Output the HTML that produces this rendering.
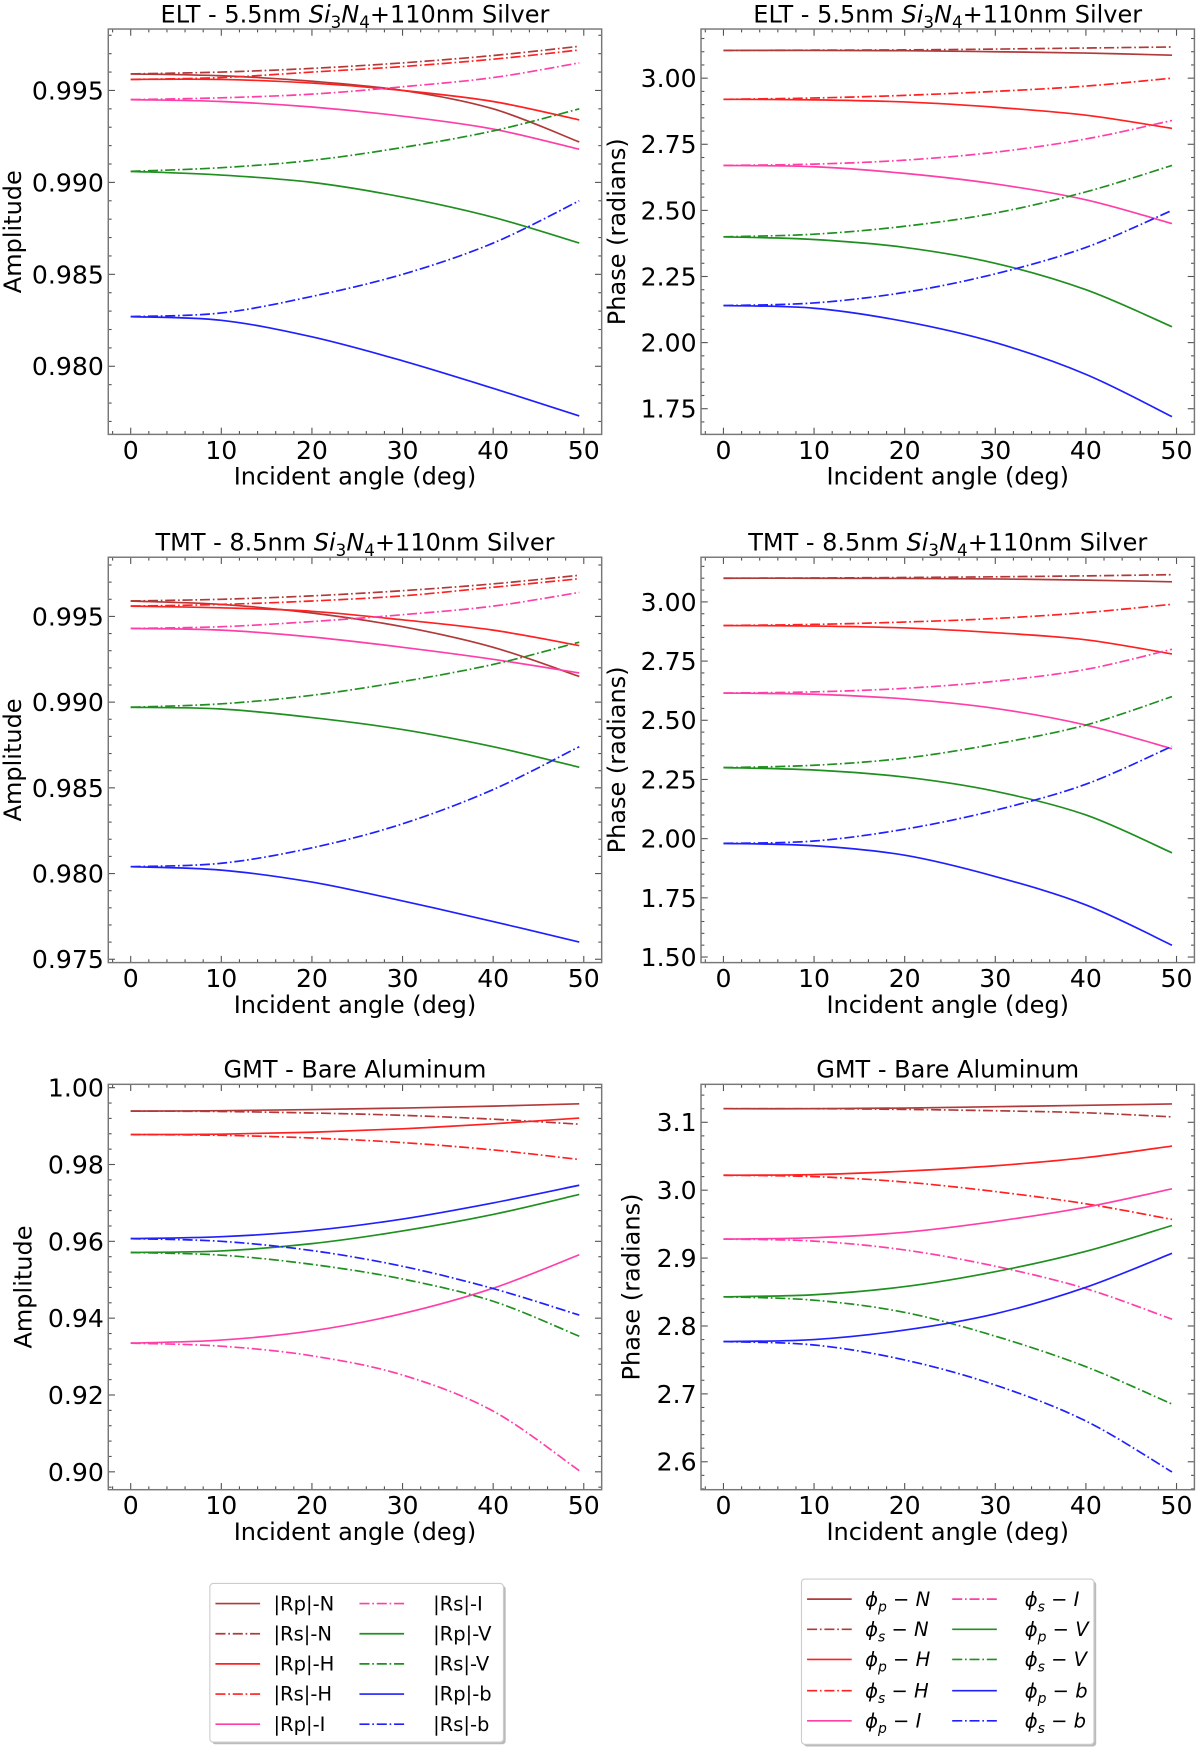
<!DOCTYPE html>
<html><head><meta charset="utf-8"><style>
html,body{margin:0;padding:0;background:#fff;}
svg{display:block;font-family:"DejaVu Sans","Liberation Sans",sans-serif;}
</style></head><body>
<svg id="fig" width="1200" height="1751" viewBox="0 0 1075 1568" preserveAspectRatio="none" xmlns="http://www.w3.org/2000/svg"></svg>
<script>
var reflAngles = [0, 10, 20, 30, 40, 49.5];
var reflSeriesNames = ['N', 'H', 'I', 'V', 'b'];
var reflSeriesColors = ['#b03a3a', '#ff2020', '#ff3fa8', '#1f8f1f', '#2020ff'];
var reflXTicks = [0, 10, 20, 30, 40, 50];

var eltAmpP = [[0.9959,0.9958,0.9955,0.9950,0.9940,0.9922],[0.9956,0.9956,0.9954,0.9950,0.9944,0.9934],[0.9945,0.9944,0.9941,0.9936,0.9929,0.9918],[0.9906,0.9904,0.9900,0.9892,0.9881,0.9867],[0.9827,0.9825,0.9816,0.9803,0.9788,0.9773]];
var eltAmpS = [[0.9959,0.9960,0.9962,0.9965,0.9969,0.9974],[0.9956,0.9957,0.9960,0.9963,0.9967,0.9972],[0.9945,0.9946,0.9948,0.9952,0.9957,0.9965],[0.9906,0.9908,0.9912,0.9919,0.9928,0.9940],[0.9827,0.9829,0.9838,0.9850,0.9867,0.9890]];
var eltAmpTicks = [0.995, 0.990, 0.985, 0.980];
var eltPhP = [[3.105,3.105,3.104,3.100,3.095,3.087],[2.92,2.918,2.91,2.89,2.86,2.81],[2.67,2.665,2.64,2.60,2.54,2.45],[2.40,2.39,2.36,2.30,2.20,2.06],[2.14,2.13,2.08,2.00,1.88,1.72]];
var eltPhS = [[3.105,3.106,3.107,3.110,3.114,3.118],[2.92,2.925,2.935,2.95,2.97,3.00],[2.67,2.675,2.69,2.72,2.77,2.84],[2.40,2.41,2.44,2.49,2.57,2.67],[2.14,2.15,2.19,2.26,2.36,2.50]];
var eltPhTicks = [3.00, 2.75, 2.50, 2.25, 2.00, 1.75];
var tmtAmpP = [[0.9959,0.9957,0.9952,0.9944,0.9932,0.9915],[0.9956,0.9955,0.9953,0.9948,0.9942,0.9933],[0.9943,0.9942,0.9938,0.9932,0.9925,0.9917],[0.9897,0.9896,0.9891,0.9884,0.9874,0.9862],[0.9804,0.9802,0.9795,0.9784,0.9772,0.9760]];
var tmtAmpS = [[0.9959,0.9960,0.9962,0.9965,0.9969,0.9974],[0.9956,0.9957,0.9959,0.9962,0.9967,0.9972],[0.9943,0.9944,0.9947,0.9951,0.9956,0.9964],[0.9897,0.9899,0.9904,0.9912,0.9922,0.9935],[0.9804,0.9806,0.9815,0.9829,0.9849,0.9874]];
var tmtAmpTicks = [0.995, 0.990, 0.985, 0.980, 0.975];
var tmtPhP = [[3.10,3.10,3.099,3.097,3.092,3.085],[2.90,2.898,2.89,2.87,2.84,2.78],[2.615,2.61,2.59,2.55,2.48,2.38],[2.30,2.29,2.26,2.20,2.10,1.94],[1.98,1.97,1.93,1.84,1.72,1.55]];
var tmtPhS = [[3.10,3.101,3.103,3.106,3.11,3.115],[2.90,2.905,2.915,2.93,2.955,2.99],[2.615,2.62,2.635,2.665,2.715,2.80],[2.30,2.31,2.34,2.40,2.48,2.60],[1.98,1.99,2.04,2.12,2.23,2.39]];
var tmtPhTicks = [3.00, 2.75, 2.50, 2.25, 2.00, 1.75, 1.50];
var gmtAmpP = [[0.9939,0.9940,0.9943,0.9947,0.9952,0.9958],[0.9878,0.9879,0.9884,0.9893,0.9906,0.9921],[0.9335,0.9343,0.9367,0.9412,0.9478,0.9565],[0.9571,0.9575,0.9594,0.9627,0.9670,0.9722],[0.9607,0.9612,0.9628,0.9658,0.9700,0.9746]];
var gmtAmpS = [[0.9939,0.9938,0.9934,0.9928,0.9918,0.9905],[0.9878,0.9876,0.9869,0.9857,0.9838,0.9813],[0.9335,0.9327,0.9302,0.9252,0.9158,0.9003],[0.9571,0.9564,0.9540,0.9502,0.9444,0.9353],[0.9607,0.9600,0.9576,0.9535,0.9477,0.9408]];
var gmtAmpTicks = [1.00, 0.98, 0.96, 0.94, 0.92, 0.90];
var gmtPhP = [[3.120,3.120,3.121,3.123,3.125,3.127],[3.022,3.023,3.028,3.036,3.048,3.065],[2.928,2.930,2.938,2.954,2.975,3.002],[2.843,2.846,2.858,2.880,2.910,2.948],[2.777,2.780,2.794,2.818,2.857,2.907]];
var gmtPhS = [[3.120,3.120,3.119,3.117,3.114,3.108],[3.022,3.020,3.012,2.998,2.980,2.957],[2.928,2.925,2.912,2.888,2.855,2.810],[2.843,2.838,2.820,2.785,2.740,2.685],[2.777,2.772,2.750,2.713,2.660,2.585]];
var gmtPhTicks = [3.1, 3.0, 2.9, 2.8, 2.7, 2.6];

(function(){
var SVGNS = 'http://www.w3.org/2000/svg';
var root = document.getElementById('fig');
function mk(tag, attrs, parent){
  var e=document.createElementNS(SVGNS,tag);
  for(var k in attrs){ e.setAttribute(k, String(attrs[k])); }
  (parent||root).appendChild(e);
  return e;
}
var DASH='9,2.5,1.5,2.5';
var panelDefs = [
 {name:'elt-amplitude', title:'elt', ylabel:'Amplitude', P:eltAmpP, S:eltAmpS, ticks:eltAmpTicks, dec:3, L:97, R:539, T:26, B:389, t0:0.995, y0:81, t1:0.980, y1:328, minor:0.001, ylx:78},
 {name:'elt-phase', title:'elt', ylabel:'Phase (radians)', P:eltPhP, S:eltPhS, ticks:eltPhTicks, dec:2, L:628, R:1070, T:26, B:389, t0:3.00, y0:70, t1:1.75, y1:366, minor:0.05, ylx:68},
 {name:'tmt-amplitude', title:'tmt', ylabel:'Amplitude', P:tmtAmpP, S:tmtAmpS, ticks:tmtAmpTicks, dec:3, L:97, R:539, T:499, B:862, t0:0.995, y0:552, t1:0.975, y1:859, minor:0.001, ylx:78},
 {name:'tmt-phase', title:'tmt', ylabel:'Phase (radians)', P:tmtPhP, S:tmtPhS, ticks:tmtPhTicks, dec:2, L:628, R:1070, T:499, B:862, t0:3.00, y0:539, t1:1.50, y1:857, minor:0.05, ylx:68},
 {name:'gmt-amplitude', title:'gmt', ylabel:'Amplitude', P:gmtAmpP, S:gmtAmpS, ticks:gmtAmpTicks, dec:2, L:97, R:539, T:971, B:1334, t0:1.00, y0:974, t1:0.90, y1:1318, minor:0.004, ylx:69},
 {name:'gmt-phase', title:'gmt', ylabel:'Phase (radians)', P:gmtPhP, S:gmtPhS, ticks:gmtPhTicks, dec:1, L:628, R:1070, T:971, B:1334, t0:3.1, y0:1005, t1:2.6, y1:1309, minor:0.02, ylx:55}
];
function smoothPath(pts){
  var d='M'+pts[0][0].toFixed(2)+','+pts[0][1].toFixed(2);
  for(var i=0;i<pts.length-1;i++){
    var p0=pts[Math.max(0,i-1)],p1=pts[i],p2=pts[i+1],p3=pts[Math.min(pts.length-1,i+2)];
    var c1x=p1[0]+(p2[0]-p0[0])/6, c1y=p1[1]+(p2[1]-p0[1])/6;
    var c2x=p2[0]-(p3[0]-p1[0])/6, c2y=p2[1]-(p3[1]-p1[1])/6;
    d+=' C'+c1x.toFixed(2)+','+c1y.toFixed(2)+' '+c2x.toFixed(2)+','+c2y.toFixed(2)+' '+p2[0].toFixed(2)+','+p2[1].toFixed(2);
  }
  return d;
}
function drawPanel(p){
  var g=mk('g',{});
  
  
  var xmin=-2.475, xmax=51.975;
  function xs(v){ return p.L+(v-xmin)/(xmax-xmin)*(p.R-p.L); }
  function ys(v){ return p.y0+(v-p.t0)/(p.t1-p.t0)*(p.y1-p.y0); }
  var cx=(p.L+p.R)/2;
  var tt=mk('text',{x:cx,y:p.T-6,'text-anchor':'middle','font-size':21.5,fill:'#000'},g);
  
  
  if(p.title==='gmt'){ tt.textContent='GMT - Bare Aluminum'; }
  else {
    tt.appendChild(document.createTextNode(p.title==='elt' ? 'ELT - 5.5nm ' : 'TMT - 8.5nm '));
    var s1=mk('tspan',{'font-style':'italic'},tt); s1.textContent='Si';
    var s2=mk('tspan',{'font-size':15,dy:5},tt); s2.textContent='3';
    var s3=mk('tspan',{'font-style':'italic',dy:-5},tt); s3.textContent='N';
    var s4=mk('tspan',{'font-size':15,dy:5},tt); s4.textContent='4';
    var s5=mk('tspan',{dy:-5},tt); s5.textContent='+110nm Silver';
  }
  var cid='clip-'+p.name;
  var cp=mk('clipPath',{id:cid},g);
  mk('rect',{x:p.L,y:p.T,width:p.R-p.L,height:p.B-p.T},cp);
  var tg=mk('g',{stroke:'#555','stroke-width':1},g);
  for(var v=-2;v<=51;v+=2){
    var x=xs(v); var len=(v%10===0)?6:3;
    mk('line',{x1:x,y1:p.B,x2:x,y2:p.B-len},tg);
    mk('line',{x1:x,y1:p.T,x2:x,y2:p.T+len},tg);
  }
  var lo=Math.min(p.t0,p.t1)-p.minor*30, hi=Math.max(p.t0,p.t1)+p.minor*30;
  for(var k=Math.ceil(lo/p.minor);k*p.minor<=hi;k++){
    var vv=k*p.minor, y=ys(vv);
    if(y<p.T+0.5||y>p.B-0.5) continue;
    var isMajor=p.ticks.some(function(tv){return Math.abs(tv-vv)<p.minor/10;});
    var ln=isMajor?6:3;
    mk('line',{x1:p.L,y1:y,x2:p.L+ln,y2:y},tg);
    mk('line',{x1:p.R,y1:y,x2:p.R-ln,y2:y},tg);
  }
  reflXTicks.forEach(function(v){
    var tx=mk('text',{x:xs(v),y:p.B+22,'text-anchor':'middle','font-size':22.5,fill:'#000'},g);
    
    
    tx.textContent=String(v);
  });
  p.ticks.forEach(function(v){
    var ty=mk('text',{x:p.L-4,y:ys(v)+8,'text-anchor':'end','font-size':22.5,fill:'#000'},g);
    
    
    ty.textContent=v.toFixed(p.dec);
  });
  var xl=mk('text',{x:cx,y:p.B+45,'text-anchor':'middle','font-size':21.5,fill:'#000'},g);
  
  
  xl.textContent='Incident angle (deg)';
  var yl=mk('text',{x:0,y:0,'text-anchor':'middle','font-size':21.5,fill:'#000',transform:'translate('+(p.L-p.ylx)+','+((p.T+p.B)/2)+') rotate(-90)'},g);
  
  
  yl.textContent=p.ylabel;
  var sg=mk('g',{'clip-path':'url(#'+cid+')',fill:'none','stroke-width':1.5},g);
  for(var i=0;i<reflSeriesNames.length;i++){
    var sets=[['p',p.P[i],null],['s',p.S[i],DASH]];
    for(var j=0;j<2;j++){
      var vals=sets[j][1];
      var pts=reflAngles.map(function(a,q){return [xs(a),ys(vals[q])];});
      var path=mk('path',{d:smoothPath(pts),stroke:reflSeriesColors[i]},sg);
      if(sets[j][2]) path.setAttribute('stroke-dasharray',sets[j][2]);
      
      
    }
  }
  var fr=mk('rect',{x:p.L,y:p.T,width:p.R-p.L,height:p.B-p.T,fill:'none',stroke:'#777','stroke-width':1.3},g);
  
  
}
panelDefs.forEach(function(p){ try{ drawPanel(p); }catch(err){} });

function drawLegend(name,bx,by,bw,bh,rowY,colLine,colText,amp){
  var g=mk('g',{});
  
  
  mk('rect',{x:bx+2,y:by+2,width:bw,height:bh,rx:3,fill:'#bbb'},g);
  mk('rect',{x:bx,y:by,width:bw,height:bh,rx:3,fill:'#fff',stroke:'#ccc','stroke-width':1},g);
  var entries=[];
  reflSeriesNames.forEach(function(n,i){ entries.push(['p',n,i]); entries.push(['s',n,i]); });
  entries.forEach(function(e,k){
    var col=k<5?0:1, row=k%5, y=rowY[row];
    var eg=mk('g',{},g);
    
    
    var ln=mk('line',{x1:colLine[col],y1:y,x2:colLine[col]+40,y2:y,stroke:reflSeriesColors[e[2]],'stroke-width':1.5},eg);
    if(e[0]==='s') ln.setAttribute('stroke-dasharray',DASH);
    var t=mk('text',{x:colText[col],y:y+6,'font-size':17.5,fill:'#000'},eg);
    if(amp){ t.textContent='|R'+e[0]+'|-'+e[1]; }
    else {
      var a=mk('tspan',{'font-style':'italic'},t); a.textContent='\u03d5';
      var b=mk('tspan',{'font-style':'italic','font-size':12.5,dy:5},t); b.textContent=e[0];
      var c=mk('tspan',{dy:-5},t); c.textContent=' \u2212 ';
      var d=mk('tspan',{'font-style':'italic'},t); d.textContent=e[1];
    }
  });
}
try{ drawLegend('legend-amplitude',188,1418,263,142,[1436,1463,1490,1517,1544],[193,322],[245,388],true); }catch(err){}
try{ drawLegend('legend-phase',718,1414,262,148,[1432,1459,1486,1514,1541],[723,853],[775,918],false); }catch(err){}
})();
</script>
</body></html>
